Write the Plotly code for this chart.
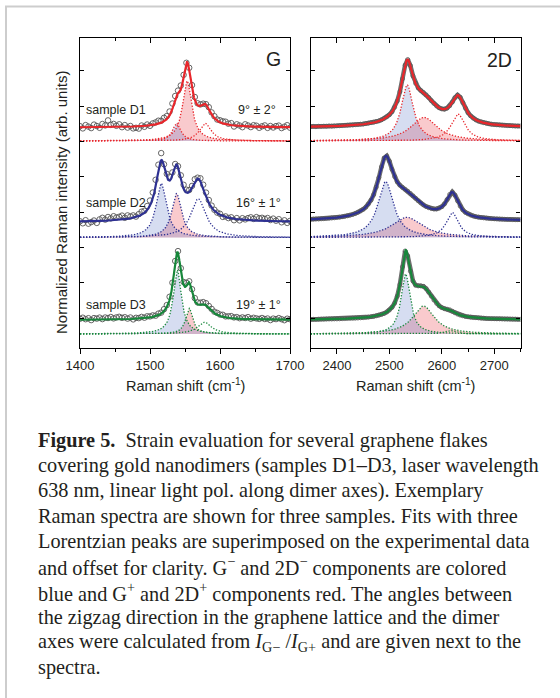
import numpy as np
import plotly.graph_objects as go

W, H = 560, 698

# ---------------- data ----------------
sample_names = ["sample D1", "sample D2", "sample D3"]
angle_labels = ["9° ± 2°", "16° ± 1°", "19° ± 1°"]
sample_offsets = [2.07, 1.105, 0.14]          # vertical offsets for clarity
sample_colors = ["#e8262b", "#2e3192", "#17873b"]

# G band: measured spectra (normalized intensity) at 4 cm-1 steps, 1400..1700
g_shift = np.arange(1400, 1701, 4)
g_data_D1 = [.148, .126, .159, .144, .129, .164, .150, .132, .170, .156,
             .206, .161, .171, .152, .167, .138, .159, .134, .150, .126,
             .132, .124, .155, .142, .165, .152, .176, .186, .203, .203,
             .232, .249, .295, .375, .450, .504, .555, .661, .782, .732,
             .559, .440, .377, .366, .373, .368, .338, .286, .248, .215,
             .207, .197, .193, .173, .179, .145, .167, .155, .138, .167,
             .155, .139, .158, .153, .132, .147, .156, .131, .150, .135,
             .149, .154, .129, .143, .158, .133]
g_data_D2 = [.162, .142, .173, .138, .154, .170, .146, .181, .197, .179,
             .205, .191, .213, .200, .207, .219, .197, .221, .210, .221,
             .209, .234, .258, .267, .315, .370, .450, .577, .728, .844,
             .732, .636, .609, .651, .735, .713, .622, .527, .478, .475,
             .516, .583, .598, .592, .528, .449, .375, .319, .277, .249,
             .237, .206, .211, .194, .202, .173, .194, .171, .193, .181,
             .194, .202, .186, .204, .193, .197, .186, .195, .175, .189,
             .168, .183, .152, .172, .146, .166]
g_data_D3 = [.153, .163, .148, .158, .139, .159, .154, .164, .149, .165,
             .160, .170, .156, .166, .172, .162, .168, .154, .165, .146,
             .162, .159, .171, .163, .177, .176, .186, .183, .204, .214,
             .248, .289, .372, .513, .730, .829, .658, .520, .512, .527,
             .448, .359, .316, .313, .319, .308, .280, .251, .223, .211,
             .195, .192, .176, .177, .179, .166, .169, .158, .166, .160,
             .169, .153, .162, .156, .151, .160, .150, .155, .139, .154,
             .149, .159, .148, .138, .153, .148]

# 2D band: measured spectra at 5 cm-1 steps, 2350..2750
d_shift = np.arange(2350, 2751, 5)
d_data_D1 = [.144, .146, .143, .147, .146, .148, .147, .150, .149, .151,
             .152, .153, .154, .156, .157, .159, .160, .163, .165, .168,
             .170, .175, .178, .183, .187, .194, .201, .212, .225, .241,
             .263, .293, .337, .400, .492, .622, .758, .815, .754, .651,
             .577, .531, .505, .485, .462, .434, .404, .375, .350, .332,
             .321, .319, .329, .352, .390, .433, .459, .437, .384, .328,
             .283, .251, .228, .211, .199, .190, .183, .177, .172, .168,
             .165, .162, .160, .158, .156, .154, .153, .152, .151, .150,
             .149]
d_data_D2 = [.183, .184, .185, .185, .187, .188, .190, .192, .195, .197,
             .201, .204, .208, .212, .217, .223, .231, .240, .251, .265,
             .282, .304, .334, .374, .429, .503, .598, .707, .795, .815,
             .763, .682, .609, .557, .524, .501, .482, .463, .441, .417,
             .392, .367, .345, .326, .310, .298, .290, .286, .286, .293,
             .308, .336, .380, .431, .455, .424, .366, .314, .277, .252,
             .236, .224, .215, .208, .203, .199, .196, .193, .191, .189,
             .187, .186, .184, .183, .182, .181, .180, .179, .178, .178,
             .177]
d_data_D3 = [.146, .147, .146, .147, .148, .148, .149, .150, .150, .151,
             .151, .152, .153, .154, .155, .156, .157, .158, .160, .162,
             .163, .166, .169, .173, .177, .182, .188, .196, .206, .220,
             .239, .267, .309, .378, .493, .672, .830, .780, .628, .530,
             .489, .481, .482, .476, .454, .419, .378, .339, .307, .282,
             .264, .253, .248, .242, .228, .212, .199, .189, .182, .176,
             .172, .168, .165, .163, .161, .159, .158, .156, .155, .154,
             .153, .152, .152, .151, .150, .150, .149, .148, .148, .147,
             .147]

# Three-Lorentzian fit parameters, order per sample: [minus (blue), plus (red), third]
g_centers = [[1538, 1553, 1579], [1516, 1538, 1569], [1539, 1556, 1578]]
g_fwhm = [[14, 16, 20], [18, 17, 26], [14, 12, 24]]
g_amps = [[0.177, 0.60, 0.177], [0.54, 0.44, 0.387], [0.64, 0.257, 0.117]]
g_bg = [0.135, 0.155, 0.14]

d_centers = [[2534, 2566, 2631], [2493, 2533, 2620], [2531, 2565, 2615]]
d_fwhm = [[28, 60, 32], [36, 70, 28], [21, 50, 24]]
d_amps = [[0.56, 0.237, 0.27], [0.56, 0.203, 0.25], [0.60, 0.28, 0.035]]
d_bg = [0.135, 0.165, 0.14]

# ---------------- helpers ----------------
def px(x):
    return x / W


def py(y):
    return 1 - y / H


def lorentz(x, c, fwhm, a):
    return a / (1 + ((x - c) / (fwhm / 2.0)) ** 2)


FILL_MINUS = "rgba(70,100,190,0.22)"
FILL_PLUS = "rgba(235,80,90,0.30)"
DOTS = "1.3px,1.7px"

fig = go.Figure()


def add_panel(xa, ya, grid, shift, datasets, centers, fwhms, amps, bgs, band):
    for i in range(3):
        off = sample_offsets[i]
        col = sample_colors[i]
        comps = [lorentz(grid, centers[i][k], fwhms[i][k], amps[i][k]) for k in range(3)]
        # filled G-/2D- (blue) and G+/2D+ (red) components
        for k, fc in ((1, FILL_PLUS), (0, FILL_MINUS)):
            xs = np.concatenate([grid, grid[::-1]])
            ys = np.concatenate([off + comps[k], np.full(grid.size, off)])
            fig.add_trace(go.Scatter(x=xs, y=ys, xaxis=xa, yaxis=ya, mode="lines",
                                     fill="toself", fillcolor=fc, line=dict(width=0),
                                     hoverinfo="skip", showlegend=False))
        # measured data
        yd = off + np.array(datasets[i])
        if band:
            fig.add_trace(go.Scatter(x=shift, y=yd, xaxis=xa, yaxis=ya, mode="lines+markers",
                                     line=dict(color="#6e6e6e", width=4.5),
                                     marker=dict(symbol="circle-open", size=4, color="#555555",
                                                 line=dict(width=0.8)),
                                     showlegend=False))
        else:
            fig.add_trace(go.Scatter(x=shift, y=yd, xaxis=xa, yaxis=ya, mode="markers",
                                     marker=dict(symbol="circle-open", size=5.5, color="#555555",
                                                 line=dict(width=0.9)),
                                     showlegend=False))
        # dotted component lines
        for k in range(3):
            fig.add_trace(go.Scatter(x=grid, y=off + comps[k], xaxis=xa, yaxis=ya, mode="lines",
                                     line=dict(color=col, width=1.3, dash=DOTS),
                                     hoverinfo="skip", showlegend=False))
        # cumulative fit
        fit = off + bgs[i] + comps[0] + comps[1] + comps[2]
        fig.add_trace(go.Scatter(x=grid, y=fit, xaxis=xa, yaxis=ya, mode="lines",
                                 line=dict(color=col, width=2.2), showlegend=False))


g_grid = np.linspace(1400, 1700, 1201)
d_grid = np.linspace(2350, 2750, 1601)
add_panel("x", "y", g_grid, g_shift, [g_data_D1, g_data_D2, g_data_D3],
          g_centers, g_fwhm, g_amps, g_bg, band=False)
add_panel("x2", "y2", d_grid, d_shift, [d_data_D1, d_data_D2, d_data_D3],
          d_centers, d_fwhm, d_amps, d_bg, band=True)

# invisible traces to activate the top tick axes
fig.add_trace(go.Scatter(x=[1400], y=[-1], xaxis="x3", yaxis="y", mode="markers",
                         marker=dict(opacity=0), showlegend=False, hoverinfo="skip"))
fig.add_trace(go.Scatter(x=[2400], y=[-1], xaxis="x4", yaxis="y2", mode="markers",
                         marker=dict(opacity=0), showlegend=False, hoverinfo="skip"))

ydom = [py(348), py(38)]
xdom1 = [px(80), px(290)]
xdom2 = [px(310.7), px(520.5)]
tickfont = dict(family="Liberation Sans, Arial, sans-serif", size=13, color="#231f20")


def xbottom(dom, rng, t0, anchor):
    return dict(domain=dom, range=rng, anchor=anchor, showline=True, linecolor="black",
                linewidth=1.3, mirror=True, ticks="outside", ticklen=5, tickwidth=1.2,
                tickcolor="black", tick0=t0, dtick=100, tickfont=tickfont,
                minor=dict(ticks="outside", ticklen=3, tickwidth=1.2, dtick=50, tick0=t0,
                           tickcolor="black"),
                showgrid=False, zeroline=False)


def xtop(over, rng, t0, anchor):
    return dict(overlaying=over, side="top", range=rng, anchor=anchor, showline=False,
                ticks="inside", ticklen=5, tickwidth=1.2, tickcolor="black", tick0=t0,
                dtick=100, showticklabels=False,
                minor=dict(ticks="inside", ticklen=3, tickwidth=1.2, dtick=50, tick0=t0,
                           tickcolor="black"),
                showgrid=False, zeroline=False)


def yax(anchor):
    return dict(domain=ydom, range=[0, 3.10], anchor=anchor, showline=True, linecolor="black",
                linewidth=1.3, mirror="ticks", ticks="inside", ticklen=4, tickwidth=1.1,
                tickcolor="black", tick0=0.30, dtick=0.353, showticklabels=False,
                showgrid=False, zeroline=False)


fig.update_layout(
    width=W, height=H,
    margin=dict(l=0, r=0, t=0, b=0, pad=0, autoexpand=False),
    paper_bgcolor="white", plot_bgcolor="white", showlegend=False,
    xaxis=xbottom(xdom1, [1400, 1700], 1400, "y"),
    xaxis2=xbottom(xdom2, [2350, 2750], 2400, "y2"),
    xaxis3=xtop("x", [1400, 1700], 1400, "y"),
    xaxis4=xtop("x2", [2350, 2750], 2400, "y2"),
    yaxis=yax("x"),
    yaxis2=yax("x2"),
)

sans = "Liberation Sans, Arial, sans-serif"
serif = "Liberation Serif, Times New Roman, serif"
ink = "#231f20"
ann = []


def text(x, y, s, size, family=sans, xanchor="center", angle=0):
    ann.append(dict(x=px(x), y=py(y), xref="paper", yref="paper", text=s, showarrow=False,
                    xanchor=xanchor, yanchor="middle", textangle=angle,
                    font=dict(family=family, size=size, color=ink)))


sample_label_y = [110, 203, 305]
for i in range(3):
    text(84, sample_label_y[i], sample_names[i], 12.5, xanchor="left")
    text(283 if i else 278, sample_label_y[i], angle_labels[i], 12.5, xanchor="right")

text(273.5, 58.5, "G", 19.5)
text(499.5, 59.5, "2D", 19.5)
text(185, 385, "Raman shift (cm<sup>-1</sup>)", 14.5)
text(415.6, 385, "Raman shift (cm<sup>-1</sup>)", 14.5)
text(62, 203, "Normalized Raman intensity (arb. units)", 15, angle=-90)

caption_lines = [
    "<b>Figure 5.</b>&#160; Strain evaluation for several graphene flakes",
    "covering gold nanodimers (samples D1–D3, laser wavelength",
    "638 nm, linear light pol. along dimer axes). Exemplary",
    "Raman spectra are shown for three samples. Fits with three",
    "Lorentzian peaks are superimposed on the experimental data",
    "and offset for clarity. G<sup>−</sup> and 2D<sup>−</sup> components are colored",
    "blue and G<sup>+</sup> and 2D<sup>+</sup> components red. The angles between",
    "the zigzag direction in the graphene lattice and the dimer",
    "axes were calculated from <i>I</i><sub>G−</sub> /<i>I</i><sub>G+</sub> and are given next to the",
    "spectra.",
]
cap_y = [440, 465.5, 490.8, 516.1, 541.4, 566.7, 592, 617.3, 642.6, 667.9]
for s, yy in zip(caption_lines, cap_y):
    text(36, yy, s, 20.3, family=serif, xanchor="left")

fig.update_layout(annotations=ann)

# page frame lines (top and left)
fig.add_shape(type="line", xref="paper", yref="paper", x0=px(5), x1=1, y0=py(6.5), y1=py(6.5),
              line=dict(color="#cdcdcd", width=2))
fig.add_shape(type="line", xref="paper", yref="paper", x0=px(6), x1=px(6), y0=py(6.5), y1=0,
              line=dict(color="#cdcdcd", width=2))

# remove the default page margin so the 560x698 figure fills the window exactly
fig.write_html(
    "out.html",
    config={"displayModeBar": False},
    post_script=("document.body.style.margin='0';"
                 "document.body.style.overflow='hidden';"
                 "document.documentElement.style.overflow='hidden';"),
)
